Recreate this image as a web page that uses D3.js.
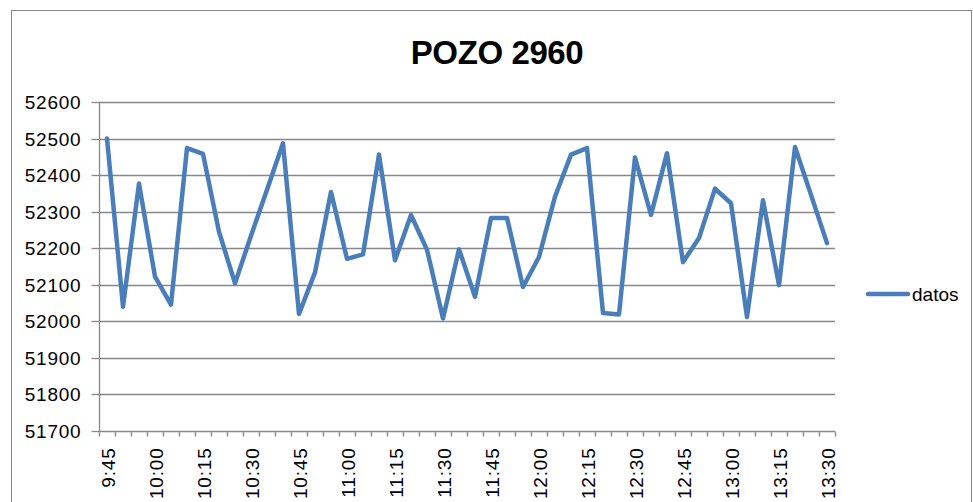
<!DOCTYPE html>
<html>
<head>
<meta charset="utf-8">
<script src="https://cdn.jsdelivr.net/npm/d3@7"></script>
<style>
  body { margin: 0; background: #fff; }
  svg { display: block; font-family: "Liberation Sans", Arial, sans-serif; }
  .grid line { stroke: #878787; stroke-width: 1.3; }
  .axis path, .axis line { stroke: #878787; stroke-width: 1.3; }
  .axis text { fill: #000; font-size: 19px; letter-spacing: 0.8px; }
</style>
</head>
<body>
<svg id="chart" width="973" height="502"></svg>
<script>
// Chart data
const title = "POZO 2960";
const seriesName = "datos";
const times = [
  "9:45", "9:50", "9:55", "10:00", "10:05", "10:10", "10:15", "10:20", "10:25", "10:30",
  "10:35", "10:40", "10:45", "10:50", "10:55", "11:00", "11:05", "11:10", "11:15", "11:20",
  "11:25", "11:30", "11:35", "11:40", "11:45", "11:50", "11:55", "12:00", "12:05", "12:10",
  "12:15", "12:20", "12:25", "12:30", "12:35", "12:40", "12:45", "12:50", "12:55", "13:00",
  "13:05", "13:10", "13:15", "13:20", "13:25", "13:30"
];
const datos = [
  52500, 52040, 52377, 52122, 52046, 52474, 52458, 52245, 52104, 52234,
  52360, 52487, 52020, 52134, 52354, 52171, 52183, 52456, 52167, 52291,
  52196, 52008, 52197, 52067, 52283, 52283, 52094, 52176, 52341, 52456,
  52474, 52023, 52019, 52448, 52291, 52460, 52162, 52228, 52363, 52323,
  52012, 52331, 52099, 52477, 52346, 52214
];
const yTicks = [51700, 51800, 51900, 52000, 52100, 52200, 52300, 52400, 52500, 52600];

const svg = d3.select("#chart");

// chart frame
svg.append("rect")
    .attr("x", 11.5).attr("y", 10.5)
    .attr("width", 960).attr("height", 520)
    .attr("fill", "none")
    .attr("stroke", "#878787")
    .attr("stroke-width", 1);

// Scales
const x = d3.scaleBand().domain(times).range([99, 835]).padding(0);
const y = d3.scaleLinear().domain([51700, 52600]).range([431, 102]);
const cx = d => x(d) + x.bandwidth() / 2;

// Gridlines
svg.append("g")
    .attr("class", "grid")
    .selectAll("line")
    .data(yTicks.slice(1))
    .enter().append("line")
    .attr("x1", 99).attr("x2", 835)
    .attr("y1", d => Math.round(y(d)) + 0.5)
    .attr("y2", d => Math.round(y(d)) + 0.5);

// Y axis
const yAxis = svg.append("g")
    .attr("class", "axis")
    .attr("transform", "translate(99.5,0)")
    .call(d3.axisLeft(y).tickValues(yTicks).tickSize(8).tickPadding(10).tickFormat(d3.format("d")));
yAxis.selectAll(".tick").attr("transform", d => `translate(0,${Math.round(y(d)) + 0.5})`);
yAxis.select(".domain").attr("d", `M0,${y(52600)}V${y(51700)}`);

// X axis: ticks between categories, labels every 15 min
const xAxis = svg.append("g")
    .attr("class", "axis")
    .attr("transform", `translate(0,${Math.round(y(51700)) + 0.5})`);
xAxis.append("line")
    .attr("x1", 99).attr("x2", 835);
xAxis.selectAll(".tk")
    .data(times.map(t => x(t)).concat([x.range()[1]]))
    .enter().append("line")
    .attr("class", "tk")
    .attr("x1", d => Math.round(d) + 0.5).attr("x2", d => Math.round(d) + 0.5)
    .attr("y1", 0).attr("y2", 5);
xAxis.selectAll("text")
    .data(times.filter((t, i) => i % 3 === 0))
    .enter().append("text")
    .attr("transform", d => `translate(${cx(d) + 1},16) rotate(-90)`)
    .attr("text-anchor", "end")
    .attr("dominant-baseline", "central")
    .text(d => d);

// Line
const line = d3.line()
    .x((d, i) => cx(times[i]))
    .y(d => y(d));

svg.append("path")
    .datum(datos)
    .attr("fill", "none")
    .attr("stroke", "#4a7ebb")
    .attr("stroke-width", 4.5)
    .attr("stroke-linejoin", "round")
    .attr("stroke-linecap", "round")
    .attr("d", line);

// Title
svg.append("text")
    .attr("x", 497).attr("y", 64)
    .attr("text-anchor", "middle")
    .attr("font-size", 33)
    .attr("font-weight", "bold")
    .attr("letter-spacing", -0.4)
    .text(title);

// Legend
const legend = svg.append("g").attr("transform", "translate(868,294)");
legend.append("line")
    .attr("x1", 0).attr("x2", 40)
    .attr("stroke", "#4a7ebb")
    .attr("stroke-width", 4.5)
    .attr("stroke-linecap", "round");
legend.append("text")
    .attr("x", 44)
    .attr("dominant-baseline", "central")
    .attr("font-size", 19)
    .text(seriesName);
</script>
</body>
</html>
